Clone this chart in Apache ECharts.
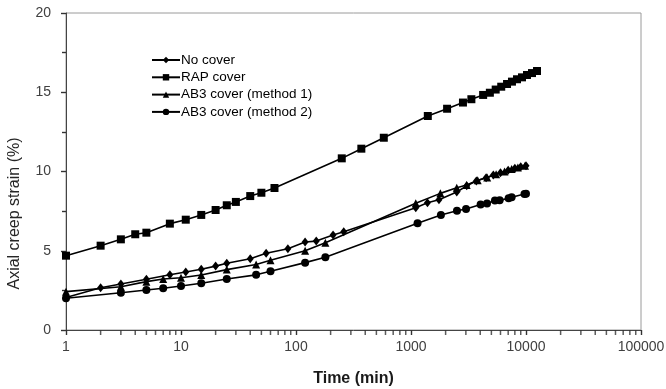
<!DOCTYPE html>
<html><head><meta charset="utf-8">
<script src="https://cdn.jsdelivr.net/npm/echarts@6/dist/echarts.min.js"></script>
<style>html,body{margin:0;padding:0;background:#fff}#c{width:666px;height:389px}</style>
</head><body><div id="c"></div>
<script>
const seriesNames = ['No cover', 'RAP cover', 'AB3 cover (method 1)', 'AB3 cover (method 2)'];
const noCover = [[1,2.05],[2,2.67],[3,2.9],[5,3.2],[8,3.49],[11,3.66],[15,3.83],[20,4.03],[25,4.21],[40,4.5],[55,4.84],[85,5.13],[120,5.55],[150,5.61],[210,6.0],[260,6.2],[1100,7.72],[1390,8.03],[1750,8.22],[2500,8.7],[3050,9.1],[3700,9.4],[4500,9.6],[5200,9.78],[6000,9.92],[7000,10.08],[8000,10.2],[9000,10.3],[10000,10.36]];
const rapCover = [[1,4.69],[2,5.32],[3,5.72],[4,6.04],[5,6.14],[8,6.71],[11,6.96],[15,7.26],[20,7.57],[25,7.87],[30,8.08],[40,8.45],[50,8.66],[65,8.96],[250,10.83],[370,11.44],[580,12.13],[1400,13.5],[2060,13.96],[2830,14.35],[3350,14.56],[4240,14.83],[4850,14.97],[5450,15.17],[6090,15.35],[6840,15.52],[7550,15.67],[8350,15.82],[9230,15.94],[10200,16.09],[11280,16.21],[12470,16.34]];
const ab3Method1 = [[1,2.42],[3,2.73],[5,3.05],[7,3.22],[10,3.3],[15,3.47],[25,3.81],[45,4.13],[60,4.4],[120,5.0],[180,5.51],[1100,7.99],[1800,8.62],[2500,8.97],[3050,9.15],[3800,9.45],[4600,9.62],[5500,9.82],[6500,10.0],[7500,10.15],[8500,10.25],[9800,10.37]];
const ab3Method2 = [[1,2.0],[3,2.35],[5,2.52],[7,2.63],[10,2.78],[15,2.95],[25,3.22],[45,3.48],[60,3.71],[120,4.25],[180,4.59],[1140,6.73],[1820,7.25],[2510,7.52],[3010,7.63],[4030,7.92],[4580,7.98],[5370,8.17],[5900,8.18],[7060,8.31],[7500,8.37],[9700,8.58],[10000,8.6]];
const yTicks = [0, 5, 10, 15, 20];
const xTicks = [1, 10, 100, 1000, 10000, 100000];
const xMinorTicks = [2,3,4,5,6,7,8,9,20,30,40,50,60,70,80,90,200,300,400,500,600,700,800,900,2000,3000,4000,5000,6000,7000,8000,9000,20000,30000,40000,50000,60000,70000,80000,90000];

const font = 'Liberation Sans, Arial, sans-serif';
const chart = echarts.init(document.getElementById('c'), null, {renderer: 'canvas'});
const mk = (name, data, symbol, size) => ({
  name, type: 'line', data, symbol, symbolSize: size, showSymbol: true,
  lineStyle: {color: '#000', width: 1.6}, itemStyle: {color: '#000'},
  emphasis: {disabled: true}, animation: false, z: 3
});
chart.setOption({
  animation: false,
  grid: {left: 66, right: 25, top: 13, bottom: 59, show: true, borderColor: '#9a9a9a', borderWidth: 1,
         containLabel: false, outerBoundsMode: 'none'},
  legend: {
    orient: 'vertical', left: 151, top: 53, padding: 0, itemWidth: 28, itemHeight: 8, itemGap: 3.3,
    textStyle: {fontFamily: font, fontSize: 13.5, lineHeight: 14, color: '#000', padding: [0,0,0,-4]},
    data: seriesNames
  },
  xAxis: {
    type: 'log', logBase: 10, min: xTicks[0], max: xTicks[xTicks.length-1],
    name: 'Time (min)', nameLocation: 'middle', nameGap: 41,
    nameTextStyle: {fontFamily: font, fontSize: 16, fontWeight: 'bold', color: '#1a1a1a'},
    axisLine: {lineStyle: {color: '#444', width: 1}},
    axisTick: {show: true, length: 5, lineStyle: {color: '#333', width: 1.4}},
    axisLabel: {fontFamily: font, fontSize: 14, color: '#404040', margin: 10, formatter: v => String(v)},
    splitLine: {show: false}
  },
  yAxis: {
    type: 'value', min: yTicks[0], max: yTicks[yTicks.length-1], interval: 5,
    name: 'Axial creep strain (%)', nameLocation: 'middle', nameGap: 43,
    nameTextStyle: {fontFamily: font, fontSize: 16, color: '#262626', padding: [0, 84, 0, 0]},
    axisLine: {show: true, lineStyle: {color: '#444', width: 1}},
    axisTick: {show: true, length: 5, lineStyle: {color: '#333', width: 1.4}},
    minorTick: {show: true, splitNumber: 2, length: 4, lineStyle: {color: '#333', width: 1.4}},
    axisLabel: {fontFamily: font, fontSize: 14, color: '#404040', margin: 15},
    splitLine: {show: false}
  },
  series: [
    mk(seriesNames[0], noCover, 'diamond', [7, 9]),
    mk(seriesNames[1], rapCover, 'rect', 8),
    mk(seriesNames[2], ab3Method1, 'triangle', 8),
    mk(seriesNames[3], ab3Method2, 'circle', 8),
    {
      name: 'minorTicks', type: 'scatter', silent: true, clip: false, z: 5, animation: false,
      data: xMinorTicks.map(v => [v, 0]),
      symbol: 'rect', symbolSize: [1.5, 5], symbolOffset: [0, 2.5],
      itemStyle: {color: '#333'}, emphasis: {disabled: true}
    }
  ]
});
</script></body></html>
